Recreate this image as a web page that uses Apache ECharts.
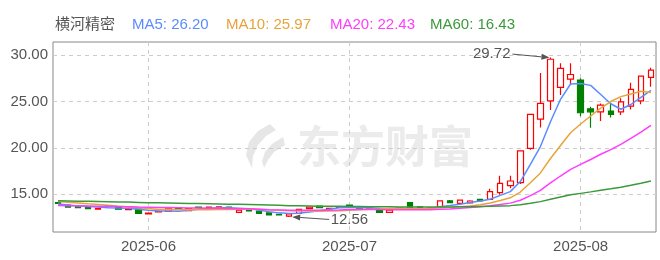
<!DOCTYPE html>
<html><head><meta charset="utf-8">
<script src="https://cdn.jsdelivr.net/npm/echarts@6/dist/echarts.min.js"></script>
<style>html,body{margin:0;padding:0;background:#fff}#c{width:660px;height:260px}</style>
</head><body><div id="c"></div>
<script>
const stockName = '横河精密';
const dates = [
'2025-05-20','2025-05-21','2025-05-22','2025-05-23','2025-05-26','2025-05-27','2025-05-28','2025-05-29','2025-05-30',
'2025-06-03','2025-06-04','2025-06-05','2025-06-06','2025-06-09','2025-06-10','2025-06-11','2025-06-12','2025-06-13',
'2025-06-16','2025-06-17','2025-06-18','2025-06-19','2025-06-20','2025-06-23','2025-06-24','2025-06-25','2025-06-26','2025-06-27','2025-06-30',
'2025-07-01','2025-07-02','2025-07-03','2025-07-04','2025-07-07','2025-07-08','2025-07-09','2025-07-10','2025-07-11',
'2025-07-14','2025-07-15','2025-07-16','2025-07-17','2025-07-18','2025-07-21','2025-07-22','2025-07-23','2025-07-24','2025-07-25',
'2025-07-28','2025-07-29','2025-07-30','2025-07-31',
'2025-08-01','2025-08-04','2025-08-05','2025-08-06','2025-08-07','2025-08-08','2025-08-11','2025-08-12'];
const opens = [14.10,13.85,13.72,13.60,13.40,13.78,13.65,13.36,13.42,12.88,13.10,13.17,13.58,13.25,13.62,13.53,13.60,13.63,13.05,13.28,
13.18,13.00,12.85,12.66,12.95,13.45,13.72,13.46,13.60,13.85,13.52,13.50,13.30,13.06,13.46,14.10,13.65,13.48,13.67,14.30,
14.03,14.07,14.45,14.46,15.17,15.93,16.25,19.95,23.10,25.07,26.51,27.40,27.30,24.20,23.88,23.96,23.88,24.50,25.07,27.60];
const closes = [14.02,13.62,13.55,13.46,13.50,13.68,13.40,13.45,12.95,12.97,13.16,13.43,13.40,13.45,13.58,13.62,13.66,13.42,13.28,13.20,
12.95,12.78,12.78,12.88,13.38,13.62,13.55,13.50,13.68,13.62,13.50,13.52,13.06,13.30,13.52,13.60,13.42,13.52,14.30,14.10,
14.38,14.28,14.30,15.28,16.18,16.43,19.67,23.60,24.80,29.54,28.56,27.90,23.78,23.88,24.60,23.60,24.96,26.30,27.73,28.38];
const lows = [13.96,13.55,13.50,13.42,13.33,13.60,13.35,13.30,12.88,12.82,13.05,13.12,13.35,13.22,13.50,13.48,13.55,13.38,13.00,13.15,
12.92,12.74,12.72,12.56,12.90,13.40,13.50,13.42,13.55,13.58,13.45,13.42,13.02,13.00,13.40,13.55,13.38,13.40,13.60,14.05,
13.98,14.02,14.22,14.38,14.95,15.65,16.10,19.80,22.20,24.07,25.70,26.76,23.40,22.16,22.90,23.28,23.53,24.14,24.71,26.58];
const highs = [14.16,13.92,13.78,13.65,13.55,13.85,13.70,13.50,13.48,13.02,13.20,13.47,13.62,13.50,13.68,13.66,13.70,13.68,13.32,13.35,
13.22,13.05,12.90,12.95,13.42,13.68,13.78,13.55,13.72,13.90,13.60,13.58,13.35,13.35,13.58,14.15,13.70,13.60,14.35,14.38,
14.45,14.35,14.50,15.60,17.00,17.00,19.70,23.62,28.06,29.72,29.10,29.10,27.50,24.42,24.78,24.85,25.33,27.00,27.80,28.63];
const ma5 = [13.95,13.85,13.75,13.68,13.63,13.56,13.52,13.50,13.40,13.29,13.19,13.19,13.18,13.28,13.40,13.50,13.54,13.55,13.51,13.44,
13.30,13.13,13.00,12.92,12.95,13.09,13.24,13.39,13.55,13.59,13.57,13.56,13.48,13.40,13.38,13.40,13.38,13.47,13.67,13.79,
13.94,14.12,14.27,14.47,14.88,15.29,16.37,18.23,20.14,22.81,25.23,26.88,26.92,26.73,25.74,24.75,24.16,24.67,25.44,26.20];
const ma10 = [14.22,14.15,14.07,13.98,13.90,13.82,13.72,13.63,13.55,13.46,13.37,13.36,13.34,13.34,13.35,13.34,13.37,13.36,13.40,13.42,
13.40,13.33,13.27,13.22,13.20,13.20,13.18,13.19,13.23,13.27,13.33,13.40,13.43,13.47,13.49,13.49,13.47,13.47,13.54,13.58,
13.67,13.75,13.87,14.07,14.34,14.62,15.24,16.25,17.30,18.85,20.26,21.63,22.57,23.43,24.28,24.99,25.52,25.79,26.09,25.97];
const ma20 = [13.80,13.78,13.76,13.74,13.72,13.70,13.68,13.66,13.63,13.61,13.59,13.57,13.55,13.53,13.52,13.50,13.49,13.47,13.45,13.44,
13.39,13.34,13.31,13.28,13.27,13.27,13.28,13.28,13.31,13.35,13.36,13.37,13.35,13.34,13.34,13.34,13.33,13.33,13.38,13.43,
13.50,13.58,13.65,13.77,13.91,14.05,14.36,14.86,15.42,16.22,16.97,17.69,18.22,18.75,19.31,19.81,20.38,21.02,21.69,22.43];
const ma60 = [14.30,14.28,14.26,14.24,14.22,14.20,14.18,14.16,14.13,14.10,14.08,14.06,14.04,14.02,14.00,13.98,13.96,13.94,13.92,13.90,
13.87,13.84,13.81,13.78,13.76,13.74,13.72,13.71,13.70,13.69,13.68,13.67,13.66,13.65,13.64,13.63,13.62,13.62,13.63,13.64,
13.65,13.66,13.68,13.70,13.74,13.78,13.87,14.03,14.21,14.47,14.71,14.94,15.10,15.26,15.43,15.59,15.77,15.97,16.19,16.43];
const maNames = ['MA5','MA10','MA20','MA60'];
const maLabels = ['26.20','25.97','22.43','16.43'];
const yTicks = [15, 20, 25, 30];
const monthStarts = ['2025-06-03','2025-07-01','2025-08-01'];

const FONT = "'Liberation Sans', Arial, 'Noto Sans CJK SC', sans-serif";
const maColors = ['#5b8cff', '#e8a33a', '#ff3dff', '#3a9a3a'];
const maSeries = [ma5, ma10, ma20, ma60];

const chart = echarts.init(document.getElementById('c'), null, {renderer: 'canvas'});
const isMonth = (idx, val) => monthStarts.indexOf(val) >= 0;

const option = {
  animation: false,
  backgroundColor: '#fff',
  grid: {left: 53, right: 4, top: 42, bottom: 28, show: true, borderColor: '#888', borderWidth: 1},
  xAxis: {
    type: 'category', data: dates, boundaryGap: true,
    axisLine: {show: false}, axisTick: {show: false},
    axisLabel: {interval: isMonth, formatter: v => v.slice(0, 7), color: '#555', fontSize: 15, fontFamily: FONT, margin: 7},
    splitLine: {show: true, interval: isMonth, alignWithLabel: true, lineStyle: {type: [4, 4], color: '#ccc'}}
  },
  yAxis: {
    type: 'value', min: 10.94, max: 31.40, scale: true,
    axisLine: {show: false},
    axisTick: {show: false, customValues: yTicks},
    axisLabel: {customValues: yTicks, formatter: v => v.toFixed(2), color: '#555', fontSize: 15, fontFamily: FONT, margin: 5},
    splitLine: {show: true, lineStyle: {type: [4, 4], color: '#ccc'}}
  },
  series: [{
    type: 'candlestick', barWidth: 6,
    data: dates.map((d, i) => [opens[i], closes[i], lows[i], highs[i]]),
    itemStyle: {color: '#ffffff', color0: '#008000', borderColor: '#ff0000', borderColor0: '#008000', borderWidth: 1.2}
  }].concat(maSeries.map((arr, k) => ({
    type: 'line', name: maNames[k], data: arr, symbol: 'none', showSymbol: false,
    lineStyle: {width: 1.5, color: maColors[k]}, itemStyle: {color: maColors[k]}
  })))
};
chart.setOption(option);

// annotations
const hiIdx = highs.indexOf(Math.max.apply(null, highs));
const loIdx = lows.indexOf(Math.min.apply(null, lows));
const hp = chart.convertToPixel({gridIndex: 0}, [hiIdx, highs[hiIdx]]);
const lp = chart.convertToPixel({gridIndex: 0}, [loIdx, lows[loIdx]]);

function arrow(x1, y1, x2, y2) {
  const dx = x2 - x1, dy = y2 - y1, L = Math.sqrt(dx * dx + dy * dy);
  const ux = dx / L, uy = dy / L, nx = -uy, ny = ux;
  const bx = x2 - ux * 8, by = y2 - uy * 8;
  return [
    {type: 'line', shape: {x1: x1, y1: y1, x2: bx, y2: by}, style: {stroke: '#555', lineWidth: 1}, z: 100},
    {type: 'polygon', shape: {points: [[x2, y2], [bx + nx * 3, by + ny * 3], [bx - nx * 3, by - ny * 3]]}, style: {fill: '#555'}, z: 100}
  ];
}

const graphics = [];
// watermark
graphics.push({type: 'polygon', z: -10, silent: true,
  shape: {points: [[270,124],[258,131],[249,142],[246,155],[252,168],[253,156],[258,145],[266,136],[276,130]]},
  style: {fill: '#e6e6e6'}});
graphics.push({type: 'polygon', z: -10, silent: true,
  shape: {points: [[283,137],[272,144],[265,152],[262,161],[264,168],[268,160],[274,152],[285,145]]},
  style: {fill: '#e6e6e6'}});
graphics.push({type: 'text', z: -10, silent: true, x: 297, y: 124,
  style: {text: '东方财富', fill: '#ebebeb', fontSize: 44, fontWeight: 'bold', fontFamily: "'Noto Sans CJK SC', sans-serif"}});
// legend texts
const legendX = [132, 226, 330, 430];
graphics.push({type: 'text', x: 55, y: 25, style: {text: stockName, fill: '#555', fontSize: 15, fontFamily: FONT, verticalAlign: 'middle'}});
maNames.forEach((n, k) => graphics.push({type: 'text', x: legendX[k], y: 25,
  style: {text: n + ': ' + maLabels[k], fill: maColors[k], fontSize: 15, fontFamily: FONT, verticalAlign: 'middle'}}));
// high annotation
graphics.push.apply(graphics, arrow(hp[0] - 38, hp[1] - 3.5, hp[0] - 1, hp[1]));
graphics.push({type: 'text', x: hp[0] - 40, y: hp[1] - 3.5, z: 100,
  style: {text: highs[hiIdx].toFixed(2), fill: '#555', fontSize: 15, fontFamily: FONT, align: 'right', verticalAlign: 'middle'}});
// low annotation
graphics.push.apply(graphics, arrow(lp[0] + 40, lp[1] + 2.5, lp[0] + 3, lp[1]));
graphics.push({type: 'text', x: lp[0] + 41.5, y: lp[1] + 3, z: 100,
  style: {text: lows[loIdx].toFixed(2), fill: '#555', fontSize: 15, fontFamily: FONT, align: 'left', verticalAlign: 'middle'}});

chart.setOption({graphic: graphics});
</script>
</body></html>
